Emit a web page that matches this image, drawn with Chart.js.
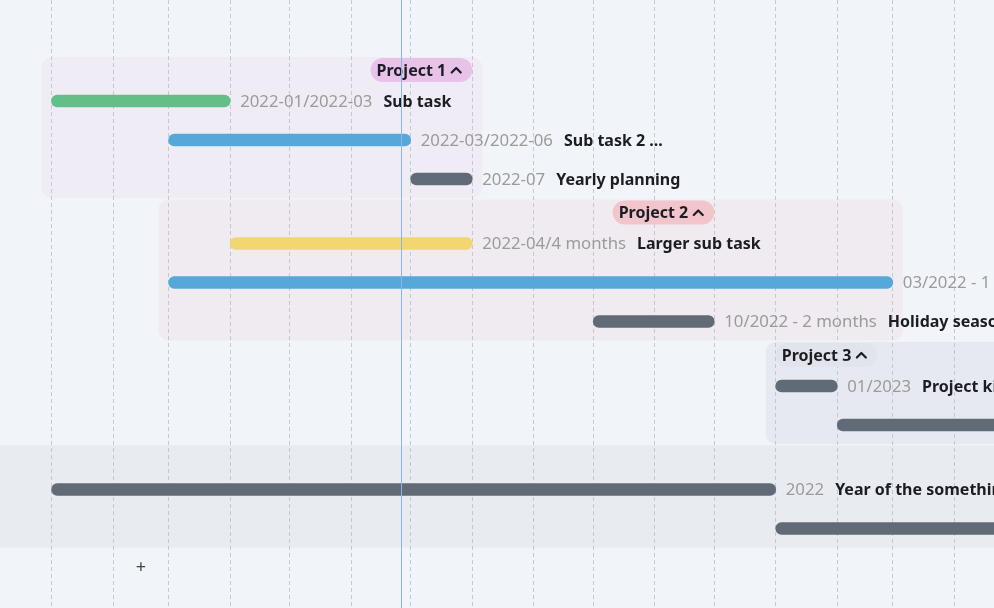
<!DOCTYPE html>
<html>
<head>
<meta charset="utf-8">
<script src="https://cdn.jsdelivr.net/npm/chart.js@4.4.1/dist/chart.umd.min.js"></script>
<style>
  html, body { margin: 0; padding: 0; background: #f1f4f8; overflow: hidden; }
  canvas { display: block; }
</style>
</head>
<body>
<canvas id="gantt" width="994" height="608"></canvas>
<script>
// tasks, top to bottom
const taskNames   = ['Sub task', 'Sub task 2 ...', 'Yearly planning', 'Larger sub task', 'Long running task',
                     'Holiday season', 'Project kickoff', 'Execution', 'Year of the something', 'Next year'];
const taskPeriods = ['2022-01/2022-03', '2022-03/2022-06', '2022-07', '2022-04/4 months', '03/2022 - 1 year',
                     '10/2022 - 2 months', '01/2023', '02/2023 - 4 months', '2022', '2023'];
const taskStarts  = ['2022-01-01', '2022-03-01', '2022-07-01', '2022-04-01', '2022-03-01',
                     '2022-10-01', '2023-01-01', '2023-02-01', '2022-01-01', '2023-01-01'];
const taskEnds    = ['2022-04-01', '2022-07-01', '2022-08-01', '2022-08-01', '2023-03-01',
                     '2022-12-01', '2023-02-01', '2023-06-01', '2023-01-01', '2024-01-01'];
const taskGroups  = [0, 0, 0, 1, 1, 1, 2, 2, 3, 3];
const taskKinds   = ['green', 'blue', 'gray', 'yellow', 'blue', 'gray', 'gray', 'gray', 'gray', 'gray'];

// groups (the last one has no header, it is the full width band)
const groupNames     = ['Project 1', 'Project 2', 'Project 3', ''];
const groupBadgeAt   = ['2022-08-01', '2022-12-01', '2023-01-01', null];
const groupBadgeSide = ['right', 'right', 'left', null];

// month grid lines
const monthTicks = ['2021-12-01', '2022-01-01', '2022-02-01', '2022-03-01', '2022-04-01', '2022-05-01',
                    '2022-06-01', '2022-07-01', '2022-08-01', '2022-09-01', '2022-10-01', '2022-11-01',
                    '2022-12-01', '2023-01-01', '2023-02-01', '2023-03-01', '2023-04-01', '2023-05-01'];
const today    = '2022-06-26';
const viewFrom = '2021-12-06';
const viewTo   = '2023-04-21';

// colours
const barColors = { green: '#63bf87', blue: '#56a8d9', gray: '#616a77', yellow: '#f2d672' };
const boxColors   = ['rgba(236, 200, 232, 0.18)', 'rgba(240, 200, 208, 0.2)', 'rgba(210, 216, 226, 0.35)', '#e8ebf0'];
const badgeColors = ['#e8c2e8', '#f2c5cc', '#e1e5eb'];

const day = s => Date.UTC(+s.slice(0, 4), +s.slice(5, 7) - 1, +s.slice(8, 10)) / 864e5;

// vertical layout in row units (one row = 39px)
const ROW = 39;
const HEAD = 13 / ROW, FIRST = 44 / ROW, PAD = 19 / ROW, GAP = 1.5 / ROW, TOP = 57 / ROW;
const groupTop = [], groupBottom = [], headerY = [], taskY = [];
let cursor = 0;
groupNames.forEach((g, gi) => {
    groupTop[gi] = cursor;
    headerY[gi] = cursor + HEAD;
    const idx = taskGroups.map((tg, i) => tg === gi ? i : -1).filter(i => i >= 0);
    idx.forEach((t, k) => { taskY[t] = cursor + FIRST + k; });
    groupBottom[gi] = cursor + FIRST + (idx.length - 1) + PAD;
    cursor = groupBottom[gi] + GAP;
});

const FONT = '"Noto Sans", "Open Sans", sans-serif';

function roundRect(ctx, x, y, w, h, r) {
    ctx.beginPath();
    ctx.roundRect(x, y, w, h, r);
    ctx.fill();
}

const ganttDecor = {
    id: 'ganttDecor',
    beforeDraw(chart) {
        const { ctx, scales: { x, y }, width } = chart;
        ctx.save();
        ctx.fillStyle = '#f1f4f8';
        ctx.fillRect(0, 0, chart.width, chart.height);
        groupNames.forEach((g, gi) => {
            const top = y.getPixelForValue(groupTop[gi]);
            const bottom = y.getPixelForValue(groupBottom[gi]);
            ctx.fillStyle = boxColors[gi];
            if (!g) {
                ctx.fillRect(0, top, width, bottom - top);
                return;
            }
            const idx = taskGroups.map((tg, i) => tg === gi ? i : -1).filter(i => i >= 0);
            const left = x.getPixelForValue(Math.min(...idx.map(i => day(taskStarts[i])))) - 10;
            const right = x.getPixelForValue(Math.max(...idx.map(i => day(taskEnds[i])))) + 10;
            roundRect(ctx, left, top, right - left, bottom - top, 10);
        });
        ctx.restore();
    },
    afterDatasetsDraw(chart) {
        const { ctx, scales: { x, y } } = chart;
        ctx.save();
        ctx.textBaseline = 'middle';

        // period + name next to each bar
        taskNames.forEach((name, i) => {
            const py = y.getPixelForValue(taskY[i]) + 1;
            let px = x.getPixelForValue(day(taskEnds[i])) + 10;
            ctx.font = '16.8px ' + FONT;
            ctx.fillStyle = '#9b9b9b';
            ctx.fillText(taskPeriods[i], px, py);
            px += ctx.measureText(taskPeriods[i]).width + 11;
            ctx.font = 'bold 16px ' + FONT;
            ctx.fillStyle = '#1c1d24';
            ctx.fillText(name, px, py);
        });

        // project badges
        groupNames.forEach((g, gi) => {
            if (!g) return;
            const py = y.getPixelForValue(headerY[gi]);
            ctx.font = 'bold 16px ' + FONT;
            const tw = ctx.measureText(g).width;
            const w = 6 + tw + 4 + 12 + 10;
            const anchor = x.getPixelForValue(day(groupBadgeAt[gi]));
            const left = groupBadgeSide[gi] === 'right' ? anchor - w : anchor;
            ctx.fillStyle = badgeColors[gi];
            roundRect(ctx, left, py - 12, w, 24, 12);
            ctx.fillStyle = '#1c1d24';
            ctx.fillText(g, left + 6, py + 1);
            const cx = left + 6 + tw + 10;
            ctx.strokeStyle = '#1c1d24';
            ctx.lineWidth = 2.2;
            ctx.lineCap = 'round';
            ctx.lineJoin = 'round';
            ctx.beginPath();
            ctx.moveTo(cx - 4.5, py + 2.5);
            ctx.lineTo(cx, py - 2);
            ctx.lineTo(cx + 4.5, py + 2.5);
            ctx.stroke();
        });

        // add button under the last band
        ctx.font = '18px ' + FONT;
        ctx.fillStyle = '#444';
        ctx.textAlign = 'center';
        ctx.fillText('+', 141, y.getPixelForValue(groupBottom[groupNames.length - 1] + 20 / ROW));
        ctx.restore();
    },
    afterDraw(chart) {
        const { ctx, scales: { x }, chartArea } = chart;
        const tx = Math.round(x.getPixelForValue(day(today))) + 0.5;
        ctx.save();
        ctx.strokeStyle = '#8cb4ec';
        ctx.lineWidth = 1;
        ctx.beginPath();
        ctx.moveTo(tx, chartArea.top);
        ctx.lineTo(tx, chartArea.bottom);
        ctx.stroke();
        ctx.restore();
    }
};

const ctx = document.getElementById('gantt').getContext('2d');

new Chart(ctx, {
    type: 'bar',
    data: {
        datasets: [{
            data: taskStarts.map((s, i) => ({ x: [day(s), day(taskEnds[i])], y: taskY[i] })),
            backgroundColor: taskKinds.map(k => barColors[k]),
            borderRadius: 6,
            borderSkipped: false,
            barThickness: 12
        }]
    },
    options: {
        indexAxis: 'y',
        responsive: false,
        animation: false,
        events: [],
        layout: { padding: 0 },
        plugins: {
            legend: { display: false },
            tooltip: { enabled: false }
        },
        scales: {
            x: {
                type: 'linear',
                min: day(viewFrom),
                max: day(viewTo),
                afterBuildTicks: scale => {
                    scale.ticks = monthTicks.map(m => ({ value: day(m) }));
                },
                ticks: { display: false },
                grid: { color: '#c4c8cf', lineWidth: 1, drawTicks: false },
                border: { display: false, dash: [4, 3] }
            },
            y: {
                type: 'linear',
                display: false,
                offset: false,
                reverse: true,
                min: -TOP,
                max: -TOP + 608 / ROW
            }
        }
    },
    plugins: [ganttDecor]
});
</script>
</body>
</html>
